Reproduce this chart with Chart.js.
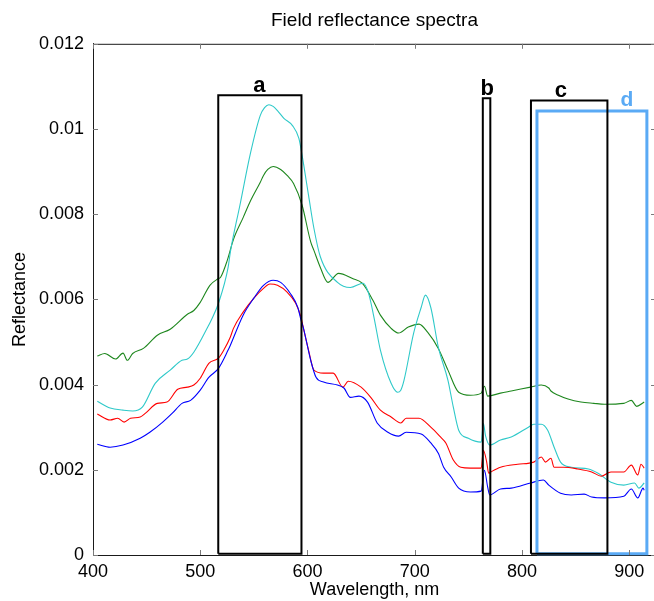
<!DOCTYPE html>
<html><head><meta charset="utf-8">
<script src="https://cdn.jsdelivr.net/npm/chart.js@4.4.1/dist/chart.umd.min.js"></script>
<style>html,body{margin:0;padding:0;background:#fff;overflow:hidden;width:654px;height:601px}canvas{display:block}</style>
</head><body>
<canvas id="c" width="664" height="601"></canvas>
<script>
// ---- data ----
const greenWl = [404,411,421,428,432,437,447,460,472,488,494,500,509,517,519,525,531,540,547,556,559,563,568,575,581,587,595,603,606,612,619,629,642,651,661,668,678,685,694,704,712,722,731,741,752,762,765,768,780,790,808,818,825,827,834,843,855,867,877,895,902,907,914];
const greenR  = [0.00467,0.00473,0.00460,0.00474,0.00457,0.00473,0.00485,0.00516,0.00530,0.00565,0.00574,0.00593,0.00633,0.00649,0.00652,0.00690,0.00741,0.00792,0.00832,0.00875,0.00891,0.00905,0.00912,0.00905,0.00891,0.00872,0.00821,0.00735,0.00715,0.00675,0.00640,0.00661,0.00649,0.00638,0.00598,0.00563,0.00532,0.00521,0.00535,0.00542,0.00523,0.00485,0.00434,0.00382,0.00375,0.00380,0.00396,0.00373,0.00380,0.00385,0.00394,0.00399,0.00392,0.00385,0.00375,0.00366,0.00359,0.00356,0.00354,0.00356,0.00363,0.00349,0.00359];

const cyanWl = [404,416,428,437,446,458,472,483,488,494,507,510,517,526,528,537,547,556,560,564,568,572,578,586,592,595,601,606,612,628,640,652,657,662,668,678,684,687,690,699,706,710,715,722,731,736,741,750,762,764,766,770,780,790,806,811,818,824,830,836,846,862,871,883,895,905,909,914];
const cyanR  = [0.00361,0.00345,0.00340,0.00338,0.00347,0.00403,0.00434,0.00457,0.00460,0.00476,0.00535,0.00550,0.00591,0.00675,0.00710,0.00821,0.00945,0.01032,0.01050,0.01057,0.01053,0.01043,0.01025,0.01008,0.00978,0.00938,0.00844,0.00767,0.00700,0.00640,0.00628,0.00638,0.00614,0.00558,0.00481,0.00403,0.00382,0.00387,0.00410,0.00521,0.00581,0.00610,0.00581,0.00488,0.00410,0.00347,0.00293,0.00274,0.00265,0.00309,0.00280,0.00258,0.00270,0.00277,0.00300,0.00307,0.00307,0.00293,0.00253,0.00218,0.00206,0.00202,0.00192,0.00171,0.00164,0.00169,0.00157,0.00169];

const redWl = [404,416,423,429,435,444,449,460,469,479,488,494,500,508,517,522,528,531,540,550,559,565,572,581,589,594,596,601,606,615,624,633,638,650,659,668,678,687,692,704,715,724,729,736,743,752,762,764,767,769,771,780,796,811,818,822,827,830,839,852,865,874,883,895,902,908,911,914];
const redR  = [0.00331,0.00317,0.00321,0.00312,0.00321,0.00324,0.00333,0.00356,0.00359,0.00389,0.00394,0.00399,0.00415,0.00450,0.00462,0.00481,0.00511,0.00532,0.00570,0.00603,0.00626,0.00636,0.00633,0.00617,0.00591,0.00558,0.00535,0.00481,0.00434,0.00427,0.00427,0.00394,0.00408,0.00394,0.00370,0.00340,0.00324,0.00310,0.00321,0.00321,0.00300,0.00277,0.00263,0.00223,0.00206,0.00204,0.00204,0.00246,0.00220,0.00192,0.00195,0.00206,0.00213,0.00218,0.00230,0.00218,0.00227,0.00206,0.00206,0.00202,0.00195,0.00185,0.00195,0.00195,0.00211,0.00188,0.00213,0.00204];

const blueWl = [404,416,428,444,453,465,474,483,491,500,508,517,526,528,540,550,559,568,575,584,591,594,596,603,608,615,628,634,640,648,656,665,675,685,692,706,715,722,727,734,741,752,762,765,768,770,780,790,808,820,825,836,846,858,865,877,895,902,908,913,914];
const blueR  = [0.00260,0.00253,0.00258,0.00274,0.00288,0.00312,0.00333,0.00356,0.00363,0.00387,0.00417,0.00438,0.00481,0.00492,0.00563,0.00603,0.00633,0.00645,0.00640,0.00614,0.00581,0.00551,0.00535,0.00457,0.00417,0.00406,0.00399,0.00392,0.00370,0.00373,0.00359,0.00310,0.00288,0.00279,0.00288,0.00284,0.00263,0.00239,0.00206,0.00183,0.00157,0.00148,0.00150,0.00199,0.00160,0.00141,0.00155,0.00157,0.00169,0.00176,0.00164,0.00145,0.00141,0.00143,0.00136,0.00134,0.00138,0.00155,0.00134,0.00157,0.00152];

// marked wavelength windows
const boxNames = ['a','b','c','d'];
const boxLeft  = [516.8, 763.5, 808.4, 814.0];
const boxRight = [594.4, 770.5, 879.7, 916.5];
const boxTop   = [0.01079, 0.01072, 0.01067, 0.01042];
const labelWl  = [555.1, 767.6, 836.4, 897.8];
const labelR   = [0.01086, 0.01080, 0.01074, 0.01054];

const xTicks = [400, 500, 600, 700, 800, 900];
const yTicks = [0, 0.002, 0.004, 0.006, 0.008, 0.01, 0.012];

// ---- chart ----
const FONT = '"Liberation Sans", Arial, Helvetica, sans-serif';
const toPts = (xs, ys) => xs.map((x, i) => ({x: x, y: ys[i]}));
const series = [
  {wl: blueWl, r: blueR, color: '#0000ff'},
  {wl: redWl, r: redR, color: '#ff0000'},
  {wl: cyanWl, r: cyanR, color: '#2fc9c9'},
  {wl: greenWl, r: greenR, color: '#1e871e'}
];
const boxColors = ['#000000', '#000000', '#000000', '#5aaaf5'];
const boxWidths = [2, 2, 2, 3];

const datasets = [];
boxNames.forEach((n, i) => {
  datasets.push({
    label: 'box ' + n,
    data: [
      {x: boxLeft[i], y: 0.00003}, {x: boxLeft[i], y: boxTop[i]},
      {x: boxRight[i], y: boxTop[i]}, {x: boxRight[i], y: 0.00003},
      {x: boxLeft[i], y: 0.00003}
    ],
    borderColor: boxColors[i], borderWidth: boxWidths[i],
    pointRadius: 0, tension: 0, fill: false, clip: false,
    borderJoinStyle: 'miter', order: 0
  });
});
series.forEach((s, i) => {
  datasets.push({
    label: 's' + i,
    data: toPts(s.wl, s.r),
    borderColor: s.color, borderWidth: 1.1,
    cubicInterpolationMode: 'monotone',
    pointRadius: 0, fill: false, order: 1 + i
  });
});

const frame = {
  id: 'frame',
  afterDraw(chart) {
    const {ctx, chartArea: a, scales: {x, y}} = chart;
    ctx.save();
    ctx.strokeStyle = '#1a1a1a';
    ctx.lineWidth = 1;
    ctx.beginPath();
    ctx.moveTo(a.left, a.top + 0.5); ctx.lineTo(a.right, a.top + 0.5);
    ctx.moveTo(a.right - 0.5, a.top); ctx.lineTo(a.right - 0.5, a.bottom);
    ctx.stroke();
    ctx.strokeStyle = '#7a7a7a';
    ctx.beginPath();
    xTicks.forEach(v => {
      const px = Math.round(x.getPixelForValue(v)) + 0.5;
      ctx.moveTo(px, a.bottom); ctx.lineTo(px, a.bottom - 5);
      ctx.moveTo(px, a.top); ctx.lineTo(px, a.top + 5);
    });
    yTicks.forEach(v => {
      const py = Math.round(y.getPixelForValue(v)) + 0.5;
      ctx.moveTo(a.left, py); ctx.lineTo(a.left + 5, py);
      ctx.moveTo(a.right, py); ctx.lineTo(a.right - 5, py);
    });
    ctx.stroke();
    ctx.textAlign = 'center';
    ctx.textBaseline = 'alphabetic';
    boxNames.forEach((n, i) => {
      ctx.fillStyle = boxColors[i];
      ctx.font = 'bold ' + (i === 3 ? 21 : 22) + 'px ' + FONT;
      ctx.fillText(n, x.getPixelForValue(labelWl[i]), y.getPixelForValue(labelR[i]));
    });
    ctx.restore();
  }
};

new Chart(document.getElementById('c'), {
  type: 'line',
  data: {datasets},
  options: {
    responsive: false,
    animation: false,
    devicePixelRatio: 1,
    layout: {padding: {top: 0, right: 8, bottom: 0, left: 0}},
    plugins: {
      legend: {display: false},
      tooltip: {enabled: false},
      title: {
        display: true, text: 'Field reflectance spectra', fullSize: false,
        color: '#000', font: {family: FONT, size: 19, weight: 'normal'},
        padding: {top: 9, bottom: 12}
      }
    },
    scales: {
      x: {
        type: 'linear', min: 400, max: 925,
        grid: {display: false, drawTicks: false},
        border: {display: true, color: '#1a1a1a', width: 1},
        ticks: {stepSize: 100, includeBounds: false, autoSkip: false, maxRotation: 0,
                color: '#000', padding: 6, font: {family: FONT, size: 18}},
        title: {display: true, text: 'Wavelength, nm', color: '#000',
                font: {family: FONT, size: 18}, padding: {top: 0, bottom: 0}},
        afterFit(s) { s.height = 46; }
      },
      y: {
        min: 0, max: 0.012,
        grid: {display: false, drawTicks: false},
        border: {display: true, color: '#1a1a1a', width: 1},
        ticks: {stepSize: 0.002, color: '#000', padding: 9, font: {family: FONT, size: 18},
                callback: v => String(parseFloat(v.toFixed(4)))},
        title: {display: true, text: 'Reflectance', color: '#000',
                font: {family: FONT, size: 18}, padding: {top: 9, bottom: 0}},
        afterFit(s) { s.width = 93; }
      }
    }
  },
  plugins: [frame]
});
</script>
</body></html>
